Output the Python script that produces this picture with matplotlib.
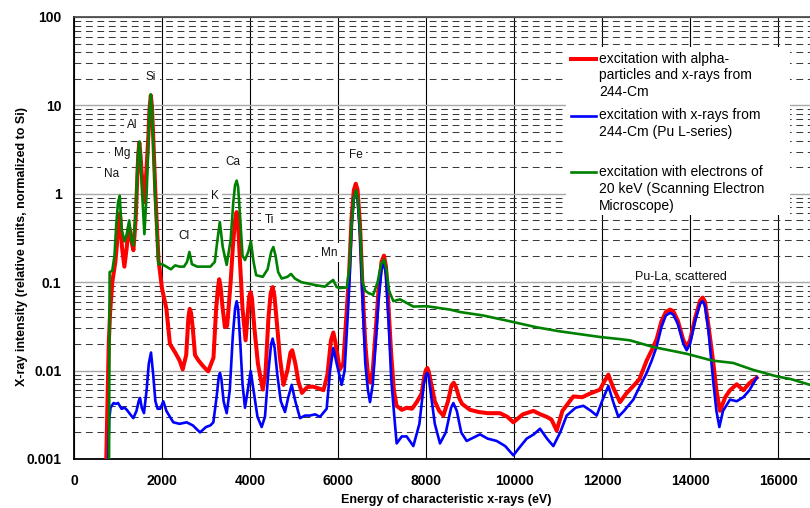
import matplotlib
matplotlib.use("Agg")
import matplotlib.pyplot as plt
from matplotlib.lines import Line2D
from matplotlib.patches import Rectangle
from matplotlib.ticker import NullFormatter, FixedLocator, LogLocator

# ---------------- data ----------------
# excitation with alpha-particles and x-rays from 244-Cm (red)
energy_alpha = [720, 790, 820, 870, 940, 990, 1020, 1040, 1060, 1090,
                1145, 1200, 1230, 1250, 1275, 1300, 1350, 1400, 1440, 1460,
                1485, 1510, 1540, 1600, 1650, 1690, 1715, 1745, 1770, 1800,
                1850, 1920, 2000, 2100, 2180, 2300, 2400, 2470, 2550, 2600,
                2630, 2660, 2700, 2750, 2830, 2950, 3050, 3170, 3230, 3270,
                3300, 3330, 3380, 3430, 3480, 3560, 3610, 3660, 3695, 3725,
                3770, 3830, 3900, 3950, 3985, 4015, 4045, 4100, 4180, 4290,
                4350, 4420, 4470, 4515, 4555, 4610, 4680, 4760, 4850, 4920,
                4960, 5030, 5100, 5180, 5300, 5420, 5560, 5670, 5760, 5840,
                5893, 5940, 6040, 6120, 6200, 6250, 6310, 6360, 6404, 6445,
                6500, 6560, 6620, 6680, 6730, 6790, 6870, 6920, 6990, 7045,
                7090, 7150, 7210, 7270, 7330, 7450, 7560, 7680, 7790, 7900,
                7960, 8000, 8030, 8060, 8120, 8200, 8300, 8394, 8500, 8580,
                8630, 8680, 8760, 8820, 9000, 9200, 9400, 9680, 9850, 9985,
                10200, 10440, 10600, 10742, 10850, 10970, 11100, 11348, 11550, 11727,
                11955, 12050, 12144, 12250, 12409, 12550, 12712, 12850, 13015, 13130,
                13242, 13350, 13450, 13545, 13620, 13720, 13850, 13924, 14000, 14120,
                14230, 14288, 14340, 14420, 14530, 14600, 14682, 14800, 14909, 15061,
                15212, 15350, 15515]
intensity_alpha = [0.0005, 0.02, 0.045, 0.1, 0.17, 0.32, 0.5, 0.6, 0.5, 0.25,
                   0.15, 0.25, 0.38, 0.43, 0.38, 0.3, 0.23, 0.5, 1.6, 2.8,
                   3.8, 2.8, 1.7, 0.8, 2.0, 4.5, 9.0, 13.0, 10.0, 4.5,
                   1.0, 0.18, 0.085, 0.05, 0.02, 0.016, 0.013, 0.0103, 0.015, 0.04,
                   0.05, 0.045, 0.03, 0.015, 0.013, 0.011, 0.0098, 0.014, 0.05, 0.085,
                   0.108, 0.09, 0.05, 0.031, 0.032, 0.1, 0.25, 0.5, 0.62, 0.5,
                   0.18, 0.05, 0.022, 0.045, 0.07, 0.077, 0.065, 0.03, 0.012, 0.0061,
                   0.009, 0.04, 0.075, 0.088, 0.07, 0.035, 0.014, 0.0069, 0.01, 0.016,
                   0.017, 0.012, 0.0075, 0.0056, 0.0065, 0.0066, 0.0063, 0.006, 0.009, 0.022,
                   0.027, 0.021, 0.0103, 0.012, 0.05, 0.12, 0.55, 1.1, 1.3, 1.1,
                   0.45, 0.08, 0.02, 0.009, 0.0073, 0.01, 0.035, 0.08, 0.17, 0.2,
                   0.15, 0.05, 0.015, 0.006, 0.004, 0.0036, 0.0038, 0.0037, 0.0044, 0.0055,
                   0.0085, 0.0102, 0.0107, 0.0098, 0.007, 0.0045, 0.0035, 0.0031, 0.0045, 0.0068,
                   0.0073, 0.0065, 0.0048, 0.0042, 0.0036, 0.0034, 0.0033, 0.0033, 0.003, 0.0026,
                   0.0032, 0.0035, 0.0032, 0.003, 0.0028, 0.0021, 0.0035, 0.0051, 0.005, 0.0055,
                   0.0061, 0.0075, 0.009, 0.0065, 0.0044, 0.0055, 0.0067, 0.008, 0.013, 0.017,
                   0.0227, 0.036, 0.046, 0.049, 0.047, 0.037, 0.022, 0.0187, 0.022, 0.04,
                   0.062, 0.067, 0.06, 0.032, 0.0122, 0.006, 0.0035, 0.005, 0.006, 0.007,
                   0.006, 0.0072, 0.0083]

# excitation with x-rays from 244-Cm (Pu L-series) (blue)
energy_xray = [760, 800, 830, 900, 950, 1000, 1080, 1150, 1200, 1300,
               1348, 1420, 1470, 1500, 1540, 1590, 1650, 1700, 1750, 1800,
               1850, 1900, 1960, 2030, 2100, 2180, 2258, 2400, 2561, 2700,
               2864, 3000, 3100, 3167, 3240, 3290, 3318, 3350, 3400, 3470,
               3540, 3610, 3660, 3697, 3730, 3780, 3830, 3886, 3950, 4015,
               4080, 4170, 4265, 4340, 4420, 4480, 4515, 4560, 4620, 4700,
               4795, 4870, 4947, 5030, 5136, 5250, 5364, 5480, 5591, 5742,
               5820, 5893, 5970, 6083, 6150, 6230, 6260, 6310, 6360, 6404,
               6445, 6500, 6560, 6620, 6680, 6727, 6790, 6870, 6920, 6990,
               7045, 7090, 7150, 7210, 7280, 7333, 7450, 7560, 7712, 7850,
               7950, 8000, 8030, 8060, 8120, 8200, 8318, 8450, 8570, 8621,
               8700, 8800, 8924, 9227, 9400, 9606, 9800, 9985, 10150, 10288,
               10450, 10591, 10750, 10894, 11050, 11197, 11400, 11576, 11750, 11879,
               12000, 12144, 12250, 12371, 12500, 12712, 12850, 13015, 13130, 13242,
               13350, 13450, 13545, 13620, 13720, 13850, 13924, 14000, 14120, 14230,
               14288, 14340, 14420, 14530, 14600, 14667, 14750, 14909, 15061, 15212,
               15350, 15515]
intensity_xray = [0.0005, 0.0028, 0.0038, 0.0043, 0.0042, 0.0043, 0.0037, 0.0038, 0.0036, 0.0031,
                  0.0029, 0.0035, 0.0045, 0.0049, 0.0038, 0.0033, 0.006, 0.012, 0.016, 0.009,
                  0.0045, 0.0037, 0.0037, 0.0045, 0.0035, 0.003, 0.0026, 0.0025, 0.0026, 0.0024,
                  0.0020, 0.0023, 0.0024, 0.0026, 0.005, 0.0085, 0.0094, 0.008, 0.0045, 0.0033,
                  0.006, 0.025, 0.05, 0.061, 0.05, 0.02, 0.007, 0.0038, 0.006, 0.0099,
                  0.006, 0.003, 0.0023, 0.003, 0.01, 0.02, 0.023, 0.018, 0.009, 0.0045,
                  0.0034, 0.005, 0.0069, 0.0045, 0.0029, 0.0031, 0.0031, 0.0032, 0.003, 0.0037,
                  0.01, 0.018, 0.012, 0.0069, 0.01, 0.05, 0.1, 0.45, 0.9, 1.05,
                  0.88, 0.35, 0.06, 0.012, 0.006, 0.0044, 0.007, 0.025, 0.06, 0.14,
                  0.165, 0.12, 0.035, 0.008, 0.003, 0.0015, 0.0018, 0.0018, 0.0014, 0.0025,
                  0.007, 0.009, 0.0094, 0.0085, 0.005, 0.0025, 0.0015, 0.002, 0.0038, 0.0043,
                  0.0035, 0.002, 0.0016, 0.0019, 0.0017, 0.0016, 0.0014, 0.0011, 0.0014, 0.0017,
                  0.0019, 0.0022, 0.0017, 0.0014, 0.002, 0.0031, 0.0038, 0.004, 0.0035, 0.0031,
                  0.0045, 0.0067, 0.0045, 0.0030, 0.0035, 0.0047, 0.0065, 0.0094, 0.013, 0.0187,
                  0.031, 0.042, 0.045, 0.043, 0.034, 0.02, 0.017, 0.02, 0.037, 0.057,
                  0.061, 0.054, 0.028, 0.0073, 0.0035, 0.0023, 0.0035, 0.0047, 0.0045, 0.005,
                  0.006, 0.0083]

# excitation with electrons of 20 keV (SEM) (green)
energy_sem = [795, 810, 870, 920, 960, 1000, 1040, 1080, 1150, 1200,
              1254, 1300, 1350, 1400, 1440, 1465, 1487, 1510, 1540, 1600,
              1650, 1690, 1715, 1745, 1770, 1800, 1850, 1920, 2000, 2100,
              2200, 2300, 2400, 2500, 2570, 2622, 2680, 2800, 2950, 3100,
              3200, 3260, 3314, 3380, 3470, 3560, 3620, 3660, 3697, 3730,
              3780, 3830, 3886, 3960, 4020, 4080, 4140, 4290, 4400, 4480,
              4530, 4580, 4640, 4720, 4850, 4932, 5020, 5170, 5470, 5700,
              5820, 5890, 5970, 6040, 6200, 6260, 6310, 6360, 6409, 6450,
              6500, 6560, 6620, 6700, 6800, 6900, 6980, 7045, 7100, 7160,
              7258, 7410, 7712, 8015, 8545, 8773, 9300, 9977, 10500, 11000,
              11955, 12409, 12636, 13160, 13924, 14500, 14980, 15432, 15970, 16300,
              16727]
intensity_sem = [0.0005, 0.13, 0.135, 0.2, 0.45, 0.8, 0.95, 0.4, 0.29, 0.35,
                 0.5, 0.3, 0.26, 0.6, 2.0, 3.2, 3.9, 2.8, 1.2, 0.35,
                 1.0, 3.5, 8.5, 13.3, 9.5, 4.0, 0.8, 0.16, 0.16, 0.15,
                 0.14, 0.155, 0.15, 0.15, 0.17, 0.22, 0.16, 0.15, 0.15, 0.15,
                 0.17, 0.3, 0.48, 0.25, 0.157, 0.3, 0.8, 1.25, 1.41, 1.2,
                 0.5, 0.2, 0.178, 0.22, 0.29, 0.17, 0.12, 0.115, 0.14, 0.22,
                 0.25, 0.2, 0.13, 0.11, 0.115, 0.124, 0.11, 0.10, 0.093, 0.089,
                 0.1, 0.106, 0.088, 0.086, 0.087, 0.15, 0.45, 0.9, 1.1, 0.9,
                 0.4, 0.1, 0.08, 0.075, 0.072, 0.1, 0.16, 0.18, 0.14, 0.08,
                 0.061, 0.064, 0.053, 0.0535, 0.049, 0.046, 0.042, 0.0355, 0.031, 0.028,
                 0.024, 0.0227, 0.022, 0.0185, 0.0155, 0.013, 0.0122, 0.0102, 0.0086, 0.008,
                 0.0069]

series_labels = [
    "excitation with alpha-\nparticles and x-rays from\n244-Cm",
    "excitation with x-rays from\n244-Cm (Pu L-series)",
    "excitation with electrons of\n20 keV (Scanning Electron\nMicroscope)",
]
series_colors = ["#ff0000", "#0000ff", "#008000"]

element_labels = ["Na", "Mg", "Al", "Si", "Cl", "K", "Ca", "Ti", "Mn", "Fe",
                  "Pu-La, scattered"]

x_ticks = [0, 2000, 4000, 6000, 8000, 10000, 12000, 14000, 16000]
y_ticks = [0.001, 0.01, 0.1, 1, 10, 100]
y_tick_labels = ["0.001", "0.01", "0.1", "1", "10", "100"]

# ---------------- figure ----------------
plt.rcParams['font.family'] = ['Liberation Sans', 'DejaVu Sans']
W, H = 810, 508
fig = plt.figure(figsize=(W / 100, H / 100), dpi=100)
ax = fig.add_axes([74 / W, 49 / H, 736 / W, 442 / H])
ax.set_yscale('log')
ax.set_xlim(0, 16727)
ax.set_ylim(0.001, 100)

ax.xaxis.set_major_locator(FixedLocator(x_ticks))
ax.set_xticklabels([str(t) for t in x_ticks])
ax.yaxis.set_major_locator(FixedLocator(y_ticks))
ax.set_yticklabels(y_tick_labels)
ax.yaxis.set_minor_locator(LogLocator(base=10, subs=range(2, 10), numticks=20))
ax.yaxis.set_minor_formatter(NullFormatter())
ax.tick_params(which='both', length=0)
ax.tick_params(axis='y', pad=9, labelsize=10)
ax.tick_params(axis='x', pad=11, labelsize=10)
for lab in ax.get_xticklabels() + ax.get_yticklabels():
    lab.set_fontweight('bold')

ax.set_axisbelow(True)
ax.grid(which='minor', axis='y', color='#3a3a3a', lw=0.75, ls=(0, (6.5, 4.5)))
ax.grid(which='major', axis='y', color='#a8a8a8', lw=1.0, ls='-')
ax.grid(which='major', axis='x', color='black', lw=0.8, ls='-')

for s in ['left', 'bottom']:
    ax.spines[s].set_color('black')
    ax.spines[s].set_linewidth(1.3)
ax.spines['top'].set_color('#404040')
ax.spines['top'].set_linewidth(1.2)
ax.spines['right'].set_visible(False)

# curves
ax.plot(energy_alpha, intensity_alpha, color=series_colors[0], lw=2.9,
        solid_joinstyle='round', zorder=4)
ax.plot(energy_xray, intensity_xray, color=series_colors[1], lw=1.9,
        solid_joinstyle='round', zorder=5)
ax.plot(energy_sem, intensity_sem, color=series_colors[2], lw=1.9,
        solid_joinstyle='round', zorder=6)

# element labels (placed in data coordinates)
label_pos = [(857, 1.67), (1091, 2.9), (1334, 6.0), (1750, 21), (2500, 0.33),
             (3205, 0.95), (3607, 2.3), (4432, 0.51), (5802, 0.216), (6409, 2.75),
             (13795, 0.115)]
for name, (ex, ey) in zip(element_labels, label_pos):
    ax.text(ex, ey, name, ha='center', va='center',
            fontsize=9 if len(name) > 3 else 8.5, color='#111111',
            bbox=dict(fc='white', ec='none', pad=2.5), zorder=3)

# legend (white box, handles aligned with first text line)
fig.add_artist(Rectangle((566 / W, 1 - 215 / H), 224 / W, 168 / H,
                         transform=fig.transFigure, fc='white', ec='none', zorder=7))
first_line_y = [58.5, 115.5, 172]
line_pitch = 16.8
for lbl, col, y0, lw in zip(series_labels, series_colors, first_line_y, [2.9, 1.9, 1.9]):
    fig.add_artist(Line2D([571 / W, 596 / W], [1 - y0 / H, 1 - y0 / H],
                          transform=fig.transFigure, color=col, lw=lw, zorder=8))
    for k, line in enumerate(lbl.split("\n")):
        fig.text(599 / W, 1 - (y0 + k * line_pitch) / H, line, ha='left',
                 va='center', fontsize=10, zorder=9)

# axis titles
fig.text(446 / W, 1 - 500 / H, "Energy of characteristic x-rays (eV)",
         ha='center', va='center', fontsize=9, fontweight='bold')
fig.text(22 / W, 1 - 247 / H, "X-ray intensity (relative units, normalized to Si)",
         ha='center', va='center', rotation=90, fontsize=9, fontweight='bold')

fig.savefig("out.png", dpi=100)
